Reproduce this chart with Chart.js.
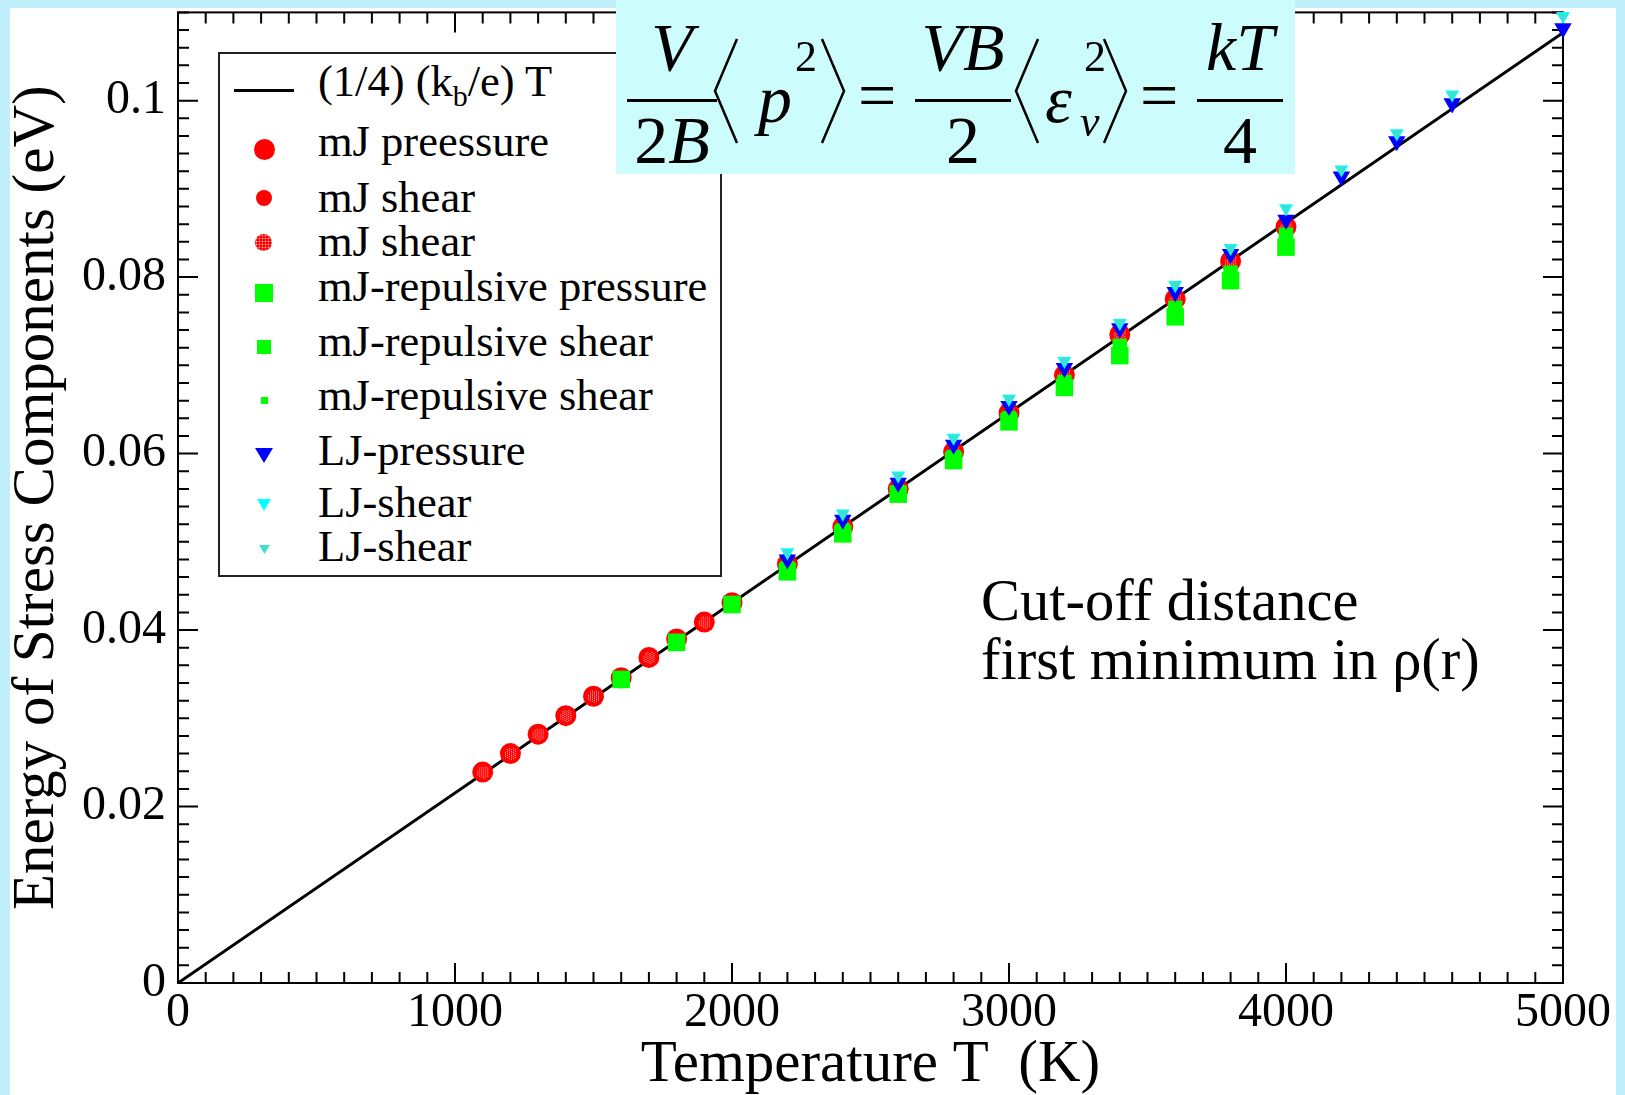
<!DOCTYPE html>
<html lang="en">
  <head>
    <meta charset="UTF-8">
    <title>Energy of Stress Components</title>
    <script src="https://cdn.jsdelivr.net/npm/chart.js"></script>
    <style>
      body{margin: 0; width: 1625px; height: 1095px; overflow: hidden; position: relative; background: #c1eefb; font-family: 'Liberation Serif', serif; color: #000;}
      #paper{position: absolute; left: 10px; top: 8px; width: 1606px; height: 1087px; background: #fff;}
      #myChart{position: absolute; left: 0; top: 0;}
      .abs{position: absolute; white-space: nowrap;}
      #legend{position: absolute; left: 218px; top: 52px; width: 500px; height: 521px; border: 2px solid #222; background: #fff;}
      .lg{position: absolute; left: 318px; font-size: 44.5px; line-height: 44px; white-space: nowrap;}
      .lg sub{font-size: 30px; vertical-align: -10px; line-height: 0;}
      .sym{position: absolute;}
      #formula{position: absolute; left: 616px; top: 0; width: 679px; height: 174px; background: #ccfcfc;}
      .f{position: absolute; font-size: 68px; line-height: 68px; text-align: center; white-space: nowrap;}
      .s{position: absolute; font-size: 44px; line-height: 44px; white-space: nowrap;}
      .bar{position: absolute; height: 3px; background: #000;}
      i{font-style: italic;}
      #note{position: absolute; left: 981px; top: 571px; font-size: 58.5px; line-height: 59px; white-space: nowrap;}
    </style>
  </head>
  <body>
    <div id="paper"></div>
    <canvas id="myChart" width="1625" height="1095"></canvas>

    <!-- legend -->
    <div id="legend"></div>
    <div class="sym" style="left:234px; top:89px; width:60px; height:3px; background:#000;"></div>
    <div class="sym" style="left:254px; top:139px; width:21px; height:21px; border-radius:50%; background:#f00;"></div>
    <div class="sym" style="left:256px; top:190px; width:16px; height:16px; border-radius:50%; background:#f00;"></div>
    <div class="sym" style="left:255px; top:234px; width:17px; height:17px; border-radius:50%; background:radial-gradient(#ffb4b4 0.6px, transparent 1.2px) 0 0/3px 3px, #f00;"></div>
    <div class="sym" style="left:255px; top:284px; width:18px; height:18px; background:#0f0;"></div>
    <div class="sym" style="left:257px; top:340px; width:14px; height:14px; background:#0f0;"></div>
    <div class="sym" style="left:261px; top:397px; width:7px; height:7px; background:#0f0;"></div>
    <div class="sym" style="left:255px; top:448px; width:18px; height:15px; background:#00f; clip-path:polygon(0 0,100% 0,50% 100%);"></div>
    <div class="sym" style="left:257px; top:499px; width:14px; height:12px; background:#0ff; clip-path:polygon(0 0,100% 0,50% 100%);"></div>
    <div class="sym" style="left:259px; top:545px; width:11px; height:9px; background:#40e0d0; clip-path:polygon(0 0,100% 0,50% 100%);"></div>
    <div class="lg" style="top:59px;">(1/4) (k<sub>b</sub>/e) T</div>
    <div class="lg" style="top:119px;">mJ preessure</div>
    <div class="lg" style="top:175px;">mJ shear</div>
    <div class="lg" style="top:219px;">mJ shear</div>
    <div class="lg" style="top:264px;">mJ-repulsive pressure</div>
    <div class="lg" style="top:319px;">mJ-repulsive shear</div>
    <div class="lg" style="top:373px;">mJ-repulsive shear</div>
    <div class="lg" style="top:428px;">LJ-pressure</div>
    <div class="lg" style="top:480px;">LJ-shear</div>
    <div class="lg" style="top:524px;">LJ-shear</div>

    <!-- formula box -->
    <div id="formula"></div>
    <div class="f" style="left:627px; top:13px; width:90px;"><i>V</i></div>
    <div class="bar" style="left:627px; top:99px; width:90px;"></div>
    <div class="f" style="left:627px; top:106px; width:90px;">2<i>B</i></div>
    <svg class="abs" style="left:713px; top:38px;" width="26" height="106"><polyline points="24,1 2,53 24,105" fill="none" stroke="#000" stroke-width="2.5"/></svg>
    <div class="f" style="left:758px; top:65px;"><i>p</i></div>
    <div class="s" style="left:795px; top:35px;">2</div>
    <svg class="abs" style="left:820px; top:38px;" width="26" height="106"><polyline points="2,1 24,53 2,105" fill="none" stroke="#000" stroke-width="2.5"/></svg>
    <div class="f" style="left:858px; top:61px;">=</div>
    <div class="f" style="left:915px; top:13px; width:96px;"><i>VB</i></div>
    <div class="bar" style="left:915px; top:99px; width:96px;"></div>
    <div class="f" style="left:915px; top:106px; width:96px;">2</div>
    <svg class="abs" style="left:1014px; top:38px;" width="26" height="106"><polyline points="24,1 2,53 24,105" fill="none" stroke="#000" stroke-width="2.5"/></svg>
    <div class="f" style="left:1045px; top:65px;"><i>ε</i></div>
    <div class="s" style="left:1080px; top:100px;"><i>v</i></div>
    <div class="s" style="left:1084px; top:35px;">2</div>
    <svg class="abs" style="left:1102px; top:38px;" width="26" height="106"><polyline points="2,1 24,53 2,105" fill="none" stroke="#000" stroke-width="2.5"/></svg>
    <div class="f" style="left:1140px; top:61px;">=</div>
    <div class="f" style="left:1197px; top:13px; width:86px;"><i>kT</i></div>
    <div class="bar" style="left:1197px; top:99px; width:86px;"></div>
    <div class="f" style="left:1197px; top:106px; width:86px;">4</div>

    <div id="note">Cut-off distance<br>first minimum in ρ(r)</div>

    <script>
      // 축 눈금
      const xTicks = [0, 1000, 2000, 3000, 4000, 5000];
      const xTickLabels = ['0', '1000', '2000', '3000', '4000', '5000'];
      const yTicks = [0, 0.02, 0.04, 0.06, 0.08, 0.1];
      const yTickLabels = ['0', '0.02', '0.04', '0.06', '0.08', '0.1'];

      // (1/4)(kb/e)T 직선
      const lineT = [0, 5000];
      const lineE = [0, 0.1077];

      // mJ 데이터
      const mjT = [1100, 1200, 1300, 1400, 1500, 1600, 1700, 1800, 1900, 2000, 2200, 2400, 2600, 2800, 3000, 3200, 3400, 3600, 3800, 4000];
      const mjPressure = [0.0239, 0.0260, 0.0282, 0.0303, 0.0325, 0.0346, 0.0369, 0.0390, 0.0409, 0.0431, 0.0475, 0.0517, 0.0560, 0.0602, 0.0646, 0.0689, 0.0735, 0.0775, 0.0818, 0.0857];
      const mjShear = [0.0239, 0.0260, 0.0282, 0.0303, 0.0325, 0.0346, 0.0369, 0.0390, 0.0409, 0.0431, 0.0475, 0.0517, 0.0560, 0.0602, 0.0646, 0.0689, 0.0735, 0.0775, 0.0818, 0.0857];
      const mjShear2 = [0.0239, 0.0260, 0.0282, 0.0303, 0.0325, 0.0346, 0.0369, 0.0390, 0.0409, 0.0431, 0.0475, 0.0517, 0.0560, 0.0602, 0.0646, 0.0689, 0.0735, 0.0775, 0.0818, 0.0857];

      // mJ-repulsive 데이터
      const repT = [1600, 1800, 2000, 2200, 2400, 2600, 2800, 3000, 3200, 3400, 3600, 3800, 4000];
      const repPressure = [0.0344, 0.0386, 0.0429, 0.0466, 0.0509, 0.0554, 0.0592, 0.0636, 0.0675, 0.0711, 0.0755, 0.0796, 0.0834];
      const repShear = [0.0345, 0.0387, 0.0430, 0.0470, 0.0513, 0.0556, 0.0596, 0.0640, 0.0681, 0.0722, 0.0765, 0.0805, 0.0848];
      const repShear2 = [0.0345, 0.0387, 0.0430, 0.0470, 0.0513, 0.0556, 0.0596, 0.0640, 0.0681, 0.0722, 0.0765, 0.0805, 0.0848];

      // LJ 데이터
      const ljT = [2200, 2400, 2600, 2800, 3000, 3200, 3400, 3600, 3800, 4000, 4200, 4400, 4600, 5000];
      const ljPressure = [0.0480, 0.0525, 0.0567, 0.0610, 0.0654, 0.0697, 0.0742, 0.0783, 0.0826, 0.0865, 0.0914, 0.0954, 0.0997, 0.1082];
      const ljShear = [0.0488, 0.0532, 0.0575, 0.0618, 0.0662, 0.0705, 0.0748, 0.0791, 0.0833, 0.0878, 0.0922, 0.0963, 0.1007, 0.1096];
      const ljShear2 = [0.0488, 0.0532, 0.0575, 0.0618, 0.0662, 0.0705, 0.0748, 0.0791, 0.0833, 0.0878, 0.0922, 0.0963, 0.1007, 0.1096];

      function pts(xs, ys){
        return xs.map((v, i) => ({x: v, y: ys[i]}));
      }

      // 빗금 친 빨간 원 마커
      function hatchedDot(r){
        const c = document.createElement('canvas');
        const s = Math.ceil(r * 2) + 2;
        c.width = s; c.height = s;
        const g = c.getContext('2d');
        g.fillStyle = '#ff0000';
        g.beginPath(); g.arc(s / 2, s / 2, r, 0, Math.PI * 2); g.fill();
        g.fillStyle = '#ffb4b4';
        for(let i = 0; i < s; i += 2){
          for(let j = (i / 2) % 2; j < s; j += 2){
            if((i - s / 2) ** 2 + (j - s / 2) ** 2 < (r - 2) ** 2) g.fillRect(i, j, 1, 1);
          }
        }
        return c;
      }

      // 테두리와 안쪽 눈금
      const frameTicks = {
        id: 'frameTicks',
        beforeDatasetsDraw(chart){
          const {ctx, chartArea: a, scales: {x, y}} = chart;
          ctx.save();
          ctx.strokeStyle = '#000';
          ctx.lineWidth = 2;
          ctx.beginPath();
          for(let t = 0; t <= 5000; t += 100){
            const px = x.getPixelForValue(t);
            const len = t % 1000 === 0 ? 20 : 11;
            ctx.moveTo(px, a.bottom); ctx.lineTo(px, a.bottom - len);
            ctx.moveTo(px, a.top); ctx.lineTo(px, a.top + len);
          }
          for(let i = 0; i <= 55; i++){
            const py = y.getPixelForValue(i * 0.002);
            const len = i % 10 === 0 ? 20 : 11;
            ctx.moveTo(a.left, py); ctx.lineTo(a.left + len, py);
            ctx.moveTo(a.right, py); ctx.lineTo(a.right - len, py);
          }
          ctx.stroke();
          ctx.strokeRect(a.left, a.top, a.right - a.left, a.bottom - a.top);
          ctx.restore();
        }
      };

      Chart.defaults.font.family = "'Liberation Serif', serif";
      Chart.defaults.color = '#000';

      const mark = (label, xs, ys, color, style, r, order, rot) => ({
        label: label,
        data: pts(xs, ys),
        showLine: false,
        pointStyle: style,
        pointRadius: r,
        pointRotation: rot || 0,
        pointBackgroundColor: color,
        pointBorderWidth: 0,
        clip: false,
        order: order
      });

      const ctx = document.getElementById('myChart');
      new Chart(ctx, {
        type: 'scatter',
        data: {
          datasets: [
            {
              label: '(1/4) (kb/e) T',
              data: pts(lineT, lineE),
              showLine: true,
              borderColor: '#000',
              borderWidth: 3,
              pointRadius: 0,
              order: 10
            },
            mark('mJ preessure', mjT, mjPressure, '#ff0000', 'circle', 10.5, 9),
            mark('mJ shear', mjT, mjShear, '#ff0000', 'circle', 8, 8),
            mark('mJ shear', mjT, mjShear2, '#ff0000', hatchedDot(8.5), 8.5, 7),
            mark('mJ-repulsive pressure', repT, repPressure, '#00ff00', 'rect', 12.4, 6),
            mark('mJ-repulsive shear', repT, repShear, '#00ff00', 'rect', 10.2, 5),
            mark('mJ-repulsive shear', repT, repShear2, '#00ff00', 'rect', 4.7, 4),
            mark('LJ-pressure', ljT, ljPressure, '#0000ff', 'triangle', 10.1, 3, 180),
            mark('LJ-shear', ljT, ljShear, '#00ffff', 'triangle', 8.1, 2, 180),
            mark('LJ-shear', ljT, ljShear2, '#40e0d0', 'triangle', 6, 1, 180)
          ]
        },
        options: {
          responsive: false,
          animation: false,
          layout: {padding: {top: 11, right: 62, left: 0, bottom: 0}},
          plugins: {legend: {display: false}, tooltip: {enabled: false}},
          scales: {
            x: {
              type: 'linear',
              min: 0,
              max: 5000,
              grid: {display: false, drawTicks: false},
              border: {display: false},
              afterBuildTicks: (s) => { s.ticks = xTicks.map(v => ({value: v})); },
              afterFit: (s) => { s.height = 112; s.paddingLeft = 0; s.paddingRight = 0; },
              ticks: {
                font: {size: 48},
                padding: 2,
                maxRotation: 0,
                autoSkip: false,
                callback: (v) => { const i = xTicks.indexOf(v); return i >= 0 ? xTickLabels[i] : ''; }
              },
              title: {display: true, text: 'Temperature T  (K)', font: {size: 59, lineHeight: 1}, padding: {top: 0, bottom: 0}}
            },
            y: {
              type: 'linear',
              min: 0,
              max: 0.11,
              grid: {display: false, drawTicks: false},
              border: {display: false},
              afterBuildTicks: (s) => { s.ticks = yTicks.map(v => ({value: v})); },
              afterFit: (s) => { s.width = 178; s.paddingTop = 0; s.paddingBottom = 0; },
              ticks: {
                font: {size: 48},
                padding: 12,
                autoSkip: false,
                callback: (v) => { const i = yTicks.indexOf(v); return i >= 0 ? yTickLabels[i] : ''; }
              },
              title: {display: true, text: 'Energy of Stress Components (eV)', font: {size: 59, lineHeight: 1}, padding: {top: 8, bottom: 0}}
            }
          }
        },
        plugins: [frameTicks]
      });
    </script>
  </body>
</html>
